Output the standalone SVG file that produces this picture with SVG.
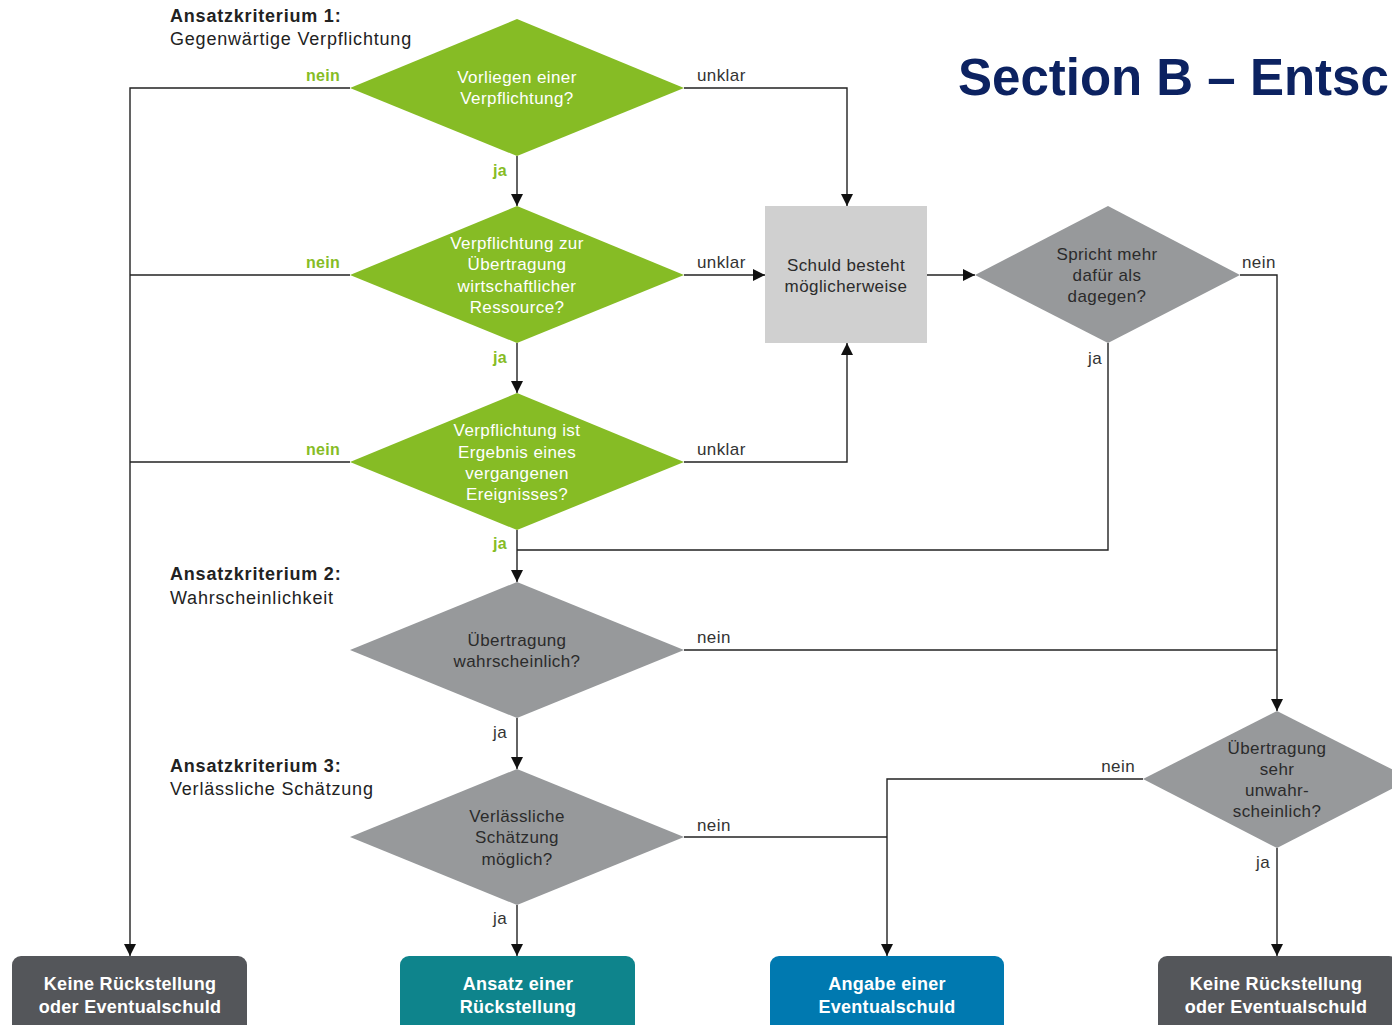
<svg xmlns="http://www.w3.org/2000/svg" width="1392" height="1025" viewBox="0 0 1392 1025">
<defs>
<marker id="arr" viewBox="0 0 12 12" refX="12" refY="6" markerWidth="12" markerHeight="12" markerUnits="userSpaceOnUse" orient="auto">
<path d="M0,0 L12,6 L0,12 Z" fill="#111"/>
</marker>
<style>
.ln{fill:none;stroke:#222;stroke-width:1.4}
.g{fill:#86bc25}
.gr{fill:#97999b}
.t{font-family:"Liberation Sans",Arial,sans-serif;font-size:17px;letter-spacing:0.4px;text-anchor:middle}
.w{fill:#ffffff}
.d{fill:#2b2b2b}
.lbl{font-family:"Liberation Sans",Arial,sans-serif;font-size:17px;letter-spacing:0.4px;fill:#333}
.gl{font-family:"Liberation Sans",Arial,sans-serif;font-size:16px;letter-spacing:0.3px;font-weight:bold;fill:#86bc25}
.h{font-family:"Liberation Sans",Arial,sans-serif;font-size:18px;letter-spacing:0.8px;fill:#222}
.bt{font-family:"Liberation Sans",Arial,sans-serif;font-size:18px;letter-spacing:0.3px;font-weight:bold;fill:#fff;text-anchor:middle}
</style>
</defs>
<rect width="1392" height="1025" fill="#ffffff"/>

<text x="958" y="95" font-family="Liberation Sans,Arial,sans-serif" font-size="51" font-weight="bold" fill="#0c2261">Section B – Entsch</text>

<g id="headers">
<text class="h" x="170" y="22" font-weight="bold">Ansatzkriterium 1:</text>
<text class="h" x="170" y="45">Gegenwärtige Verpflichtung</text>
<text class="h" x="170" y="580" font-weight="bold">Ansatzkriterium 2:</text>
<text class="h" x="170" y="604">Wahrscheinlichkeit</text>
<text class="h" x="170" y="772" font-weight="bold">Ansatzkriterium 3:</text>
<text class="h" x="170" y="795">Verlässliche Schätzung</text>
</g>

<g id="connectors">
<path class="ln" d="M350,88 H130 V956" marker-end="url(#arr)"/>
<path class="ln" d="M350,275 H130"/>
<path class="ln" d="M350,462 H130"/>
<path class="ln" d="M684,88 H847 V206" marker-end="url(#arr)"/>
<path class="ln" d="M684,275 H765" marker-end="url(#arr)"/>
<path class="ln" d="M684,462 H847 V343" marker-end="url(#arr)"/>
<path class="ln" d="M517,156 V206" marker-end="url(#arr)"/>
<path class="ln" d="M517,343 V393" marker-end="url(#arr)"/>
<path class="ln" d="M517,530 V582" marker-end="url(#arr)"/>
<path class="ln" d="M517,550 H1108 V343"/>
<path class="ln" d="M927,275 H975" marker-end="url(#arr)"/>
<path class="ln" d="M1240,275 H1277 V711" marker-end="url(#arr)"/>
<path class="ln" d="M684,650 H1277"/>
<path class="ln" d="M517,718 V769" marker-end="url(#arr)"/>
<path class="ln" d="M684,837 H887"/>
<path class="ln" d="M1143,779 H887 V956" marker-end="url(#arr)"/>
<path class="ln" d="M1277,848 V956" marker-end="url(#arr)"/>
<path class="ln" d="M517,905 V956" marker-end="url(#arr)"/>

<text class="gl" x="340" y="81" text-anchor="end">nein</text>
<text class="gl" x="340" y="268" text-anchor="end">nein</text>
<text class="gl" x="340" y="455" text-anchor="end">nein</text>
<text class="gl" x="500" y="176" text-anchor="middle">ja</text>
<text class="gl" x="500" y="363" text-anchor="middle">ja</text>
<text class="gl" x="500" y="549" text-anchor="middle">ja</text>
<text class="lbl" x="697" y="81">unklar</text>
<text class="lbl" x="697" y="268">unklar</text>
<text class="lbl" x="697" y="455">unklar</text>
<text class="lbl" x="1242" y="268">nein</text>
<text class="lbl" x="1095" y="364" text-anchor="middle">ja</text>
<text class="lbl" x="697" y="643">nein</text>
<text class="lbl" x="500" y="738" text-anchor="middle">ja</text>
<text class="lbl" x="697" y="831">nein</text>
<text class="lbl" x="500" y="924" text-anchor="middle">ja</text>
<text class="lbl" x="1135" y="772" text-anchor="end">nein</text>
<text class="lbl" x="1263" y="868" text-anchor="middle">ja</text>
</g>

<g id="d1">
<polygon class="g" points="517,19 684,88 517,156 350,88"/>
<text class="t w" x="517" y="83">Vorliegen einer</text>
<text class="t w" x="517" y="104">Verpflichtung?</text>
</g>
<g id="d2">
<polygon class="g" points="517,206 684,275 517,343 350,275"/>
<text class="t w" x="517" y="249">Verpflichtung zur</text>
<text class="t w" x="517" y="270">Übertragung</text>
<text class="t w" x="517" y="292">wirtschaftlicher</text>
<text class="t w" x="517" y="313">Ressource?</text>
</g>
<g id="d3">
<polygon class="g" points="517,393 684,462 517,530 350,462"/>
<text class="t w" x="517" y="436">Verpflichtung ist</text>
<text class="t w" x="517" y="458">Ergebnis eines</text>
<text class="t w" x="517" y="479">vergangenen</text>
<text class="t w" x="517" y="500">Ereignisses?</text>
</g>
<g id="box">
<rect x="765" y="206" width="162" height="137" fill="#d0d0d0"/>
<text class="t d" x="846" y="271">Schuld besteht</text>
<text class="t d" x="846" y="292">möglicherweise</text>
</g>
<g id="d_spricht">
<polygon class="gr" points="1108,206 1240,275 1108,343 975,275"/>
<text class="t d" x="1107" y="260">Spricht mehr</text>
<text class="t d" x="1107" y="281">dafür als</text>
<text class="t d" x="1107" y="302">dagegen?</text>
</g>
<g id="d4">
<polygon class="gr" points="517,582 684,650 517,718 350,650"/>
<text class="t d" x="517" y="646">Übertragung</text>
<text class="t d" x="517" y="667">wahrscheinlich?</text>
</g>
<g id="d5">
<polygon class="gr" points="517,769 684,837 517,905 350,837"/>
<text class="t d" x="517" y="822">Verlässliche</text>
<text class="t d" x="517" y="843">Schätzung</text>
<text class="t d" x="517" y="865">möglich?</text>
</g>
<g id="d6">
<polygon class="gr" points="1277,711 1411,779 1277,848 1143,779"/>
<text class="t d" x="1277" y="754">Übertragung</text>
<text class="t d" x="1277" y="775">sehr</text>
<text class="t d" x="1277" y="796">unwahr-</text>
<text class="t d" x="1277" y="817">scheinlich?</text>
</g>
<g id="b1">
<rect x="12" y="956" width="235" height="80" rx="9" fill="#54565a"/>
<text class="bt" x="130" y="990">Keine Rückstellung</text>
<text class="bt" x="130" y="1013">oder Eventualschuld</text>
</g>
<g id="b2">
<rect x="400" y="956" width="235" height="80" rx="9" fill="#0e848c"/>
<text class="bt" x="518" y="990">Ansatz einer</text>
<text class="bt" x="518" y="1013">Rückstellung</text>
</g>
<g id="b3">
<rect x="770" y="956" width="234" height="80" rx="9" fill="#0079b0"/>
<text class="bt" x="887" y="990">Angabe einer</text>
<text class="bt" x="887" y="1013">Eventualschuld</text>
</g>
<g id="b4">
<rect x="1158" y="956" width="240" height="80" rx="9" fill="#54565a"/>
<text class="bt" x="1276" y="990">Keine Rückstellung</text>
<text class="bt" x="1276" y="1013">oder Eventualschuld</text>
</g>
</svg>
